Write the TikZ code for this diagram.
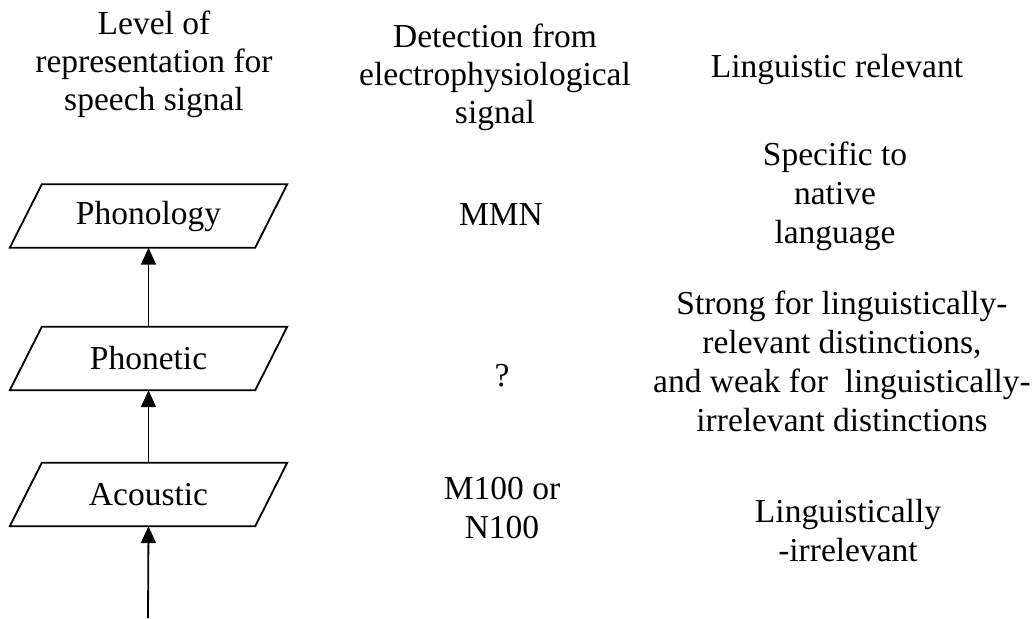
\documentclass[tikz,border=0pt]{standalone}
\usepackage{fontspec}
\setmainfont{Liberation Serif}
\usetikzlibrary{arrows.meta}
\begin{document}
\begin{tikzpicture}[x=1pt,y=-1pt,
  lbl/.style={align=center,inner sep=0pt,font=\fontsize{33.5}{39}\selectfont},
  hdr/.style={align=center,inner sep=0pt,font=\fontsize{33.5}{38}\selectfont},
  lvl/.style={rectangle,minimum width=245pt,minimum height=63pt,inner sep=0pt,font=\fontsize{33.5}{39}\selectfont},
  boxline/.style={line width=1.8pt,line join=miter},
  conn/.style={line width=1.8pt,-{Triangle[length=17pt,width=15pt]}}]
\useasboundingbox (0,0) rectangle (1035,618);
% headers
\node[hdr] (h1) at (154,64.5) {Level of\\representation for\\speech signal};
\node[hdr] (h2) at (495,77) {Detection from\\electrophysiological\\signal};
\node[hdr] (h3) at (837,69) {Linguistic relevant};
% level boxes
\node[lvl] (phon) at (148.5,216) {Phonology};
\node[lvl] (phnt) at (148.5,358.5) {Phonetic};
\node[lvl] (acou) at (148.5,494.5) {Acoustic};
\foreach \n in {phon,phnt,acou}
  \draw[boxline] ([xshift=16pt]\n.north west) -- ([xshift=16pt]\n.north east)
    -- ([xshift=-16pt]\n.south east) -- ([xshift=-16pt]\n.south west) -- cycle;
% connectors
\coordinate (in) at (148,618);
\draw[conn] (in) -- (acou.south);
\draw[conn] (acou.north) -- (phnt.south);
\draw[conn] (phnt.north) -- (phon.south);
% detection column
\node[lbl,anchor=base] (mmn) at (501,225) {MMN};
\node[lbl,anchor=base] (q) at (502,386) {?};
\node[lbl] (m100) at (502,508.5) {M100 or\\N100};
% relevance column
\node[lbl] (r1) at (835,196) {Specific to\\native\\language};
\node[lbl] (r2) at (842,361) {Strong for linguistically-\\relevant distinctions,\\and weak for\ \ linguistically-\\irrelevant distinctions};
\node[lbl] (r3) at (848,530.5) {Linguistically\\-irrelevant};
\end{tikzpicture}
\end{document}
